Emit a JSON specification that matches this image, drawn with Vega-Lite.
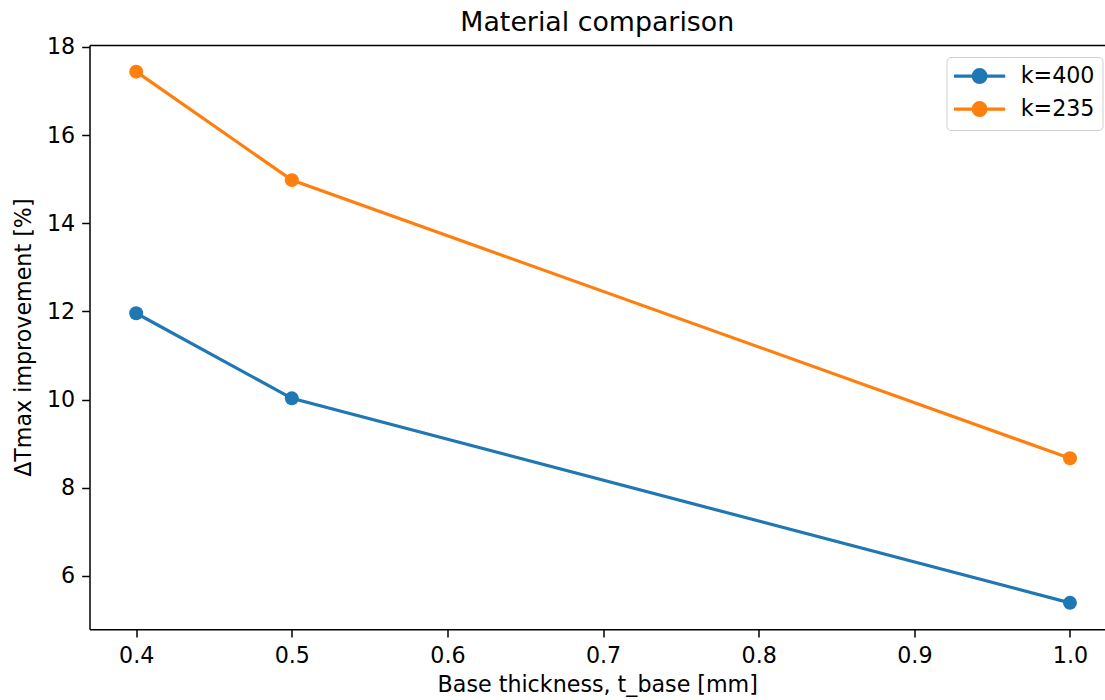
{
  "$schema": "https://vega.github.io/schema/vega-lite/v6.json",
  "autosize": {"type": "none"},
  "width": 1015.5,
  "height": 584.3,
  "padding": {"left": 89.5, "top": 45, "right": 0, "bottom": 70.7},
  "background": "white",
  "title": {"text": "Material comparison", "font": "DejaVu Sans", "fontSize": 26.8, "fontWeight": "normal", "color": "#000", "offset": 4, "dy": 4.5, "anchor": "middle", "frame": "group"},
  "config": {
    "view": {"stroke": null},
    "font": "DejaVu Sans",
    "axis": {"grid": false, "domainColor": "#000", "domainWidth": 1.5, "tickColor": "#000", "tickWidth": 1.5, "tickSize": 7.8, "labelPadding": 7, "labelFont": "DejaVu Sans", "labelFontSize": 22.2, "labelColor": "#000", "titleFont": "DejaVu Sans", "titleFontSize": 22.2, "titleFontWeight": "normal", "titleColor": "#000", "labelFlush": false, "labelOverlap": false}
  },
  "data": {"values": [
    {"t": 0.4, "dT": 11.96, "k": "k=400"},
    {"t": 0.5, "dT": 10.03, "k": "k=400"},
    {"t": 1.0, "dT": 5.39, "k": "k=400"},
    {"t": 0.4, "dT": 17.44, "k": "k=235"},
    {"t": 0.5, "dT": 14.98, "k": "k=235"},
    {"t": 1.0, "dT": 8.67, "k": "k=235"}
  ]},
  "layer": [
    {
      "mark": {"type": "line", "strokeWidth": 3.2},
      "encoding": {
        "x": {"field": "t", "type": "quantitative", "scale": {"domain": [0.37, 1.0225], "nice": false, "zero": false},
              "axis": {"orient": "bottom", "values": [0.4, 0.5, 0.6, 0.7, 0.8, 0.9, 1.0], "format": ".1f", "title": "Base thickness, t_base [mm]", "titlePadding": 7}},
        "y": {"field": "dT", "type": "quantitative", "scale": {"domain": [4.79, 18.045], "nice": false, "zero": false},
              "axis": {"values": [6, 8, 10, 12, 14, 16, 18], "title": "ΔTmax improvement [%]", "titlePadding": 11}},
        "color": {"field": "k", "type": "nominal", "scale": {"domain": ["k=400", "k=235"], "range": ["#1f77b4", "#ff7f0e"]}}
      }
    },
    {
      "mark": {"type": "point", "filled": true, "opacity": 1, "size": 195, "shape": "circle"},
      "encoding": {
        "x": {"field": "t", "type": "quantitative",
              "axis": {"orient": "top", "labels": false, "ticks": false, "title": null, "domain": true}},
        "y": {"field": "dT", "type": "quantitative"},
        "color": {"field": "k", "type": "nominal",
                  "legend": {"title": null, "orient": "none", "legendX": 857, "legendY": 12,
                             "symbolType": "M-3.2,0L3.2,0M-0.8,0A0.8,0.8,0,1,1,0.8,0A0.8,0.8,0,1,1,-0.8,0",
                             "symbolSize": 256, "symbolStrokeWidth": 3.2, "symbolOpacity": 1, "symbolOffset": 14,
                             "labelFont": "DejaVu Sans", "labelFontSize": 22.2, "labelColor": "#000", "labelOffset": 30,
                             "rowPadding": 7, "padding": 8, "strokeColor": "#d0d0d0", "cornerRadius": 4, "fillColor": "white",
                             "encode": {"symbols": {"update": {"stroke": {"scale": "color", "field": "value"}, "fill": {"scale": "color", "field": "value"}}}}}}
      }
    }
  ],
  "resolve": {"axis": {"x": "independent"}}
}
